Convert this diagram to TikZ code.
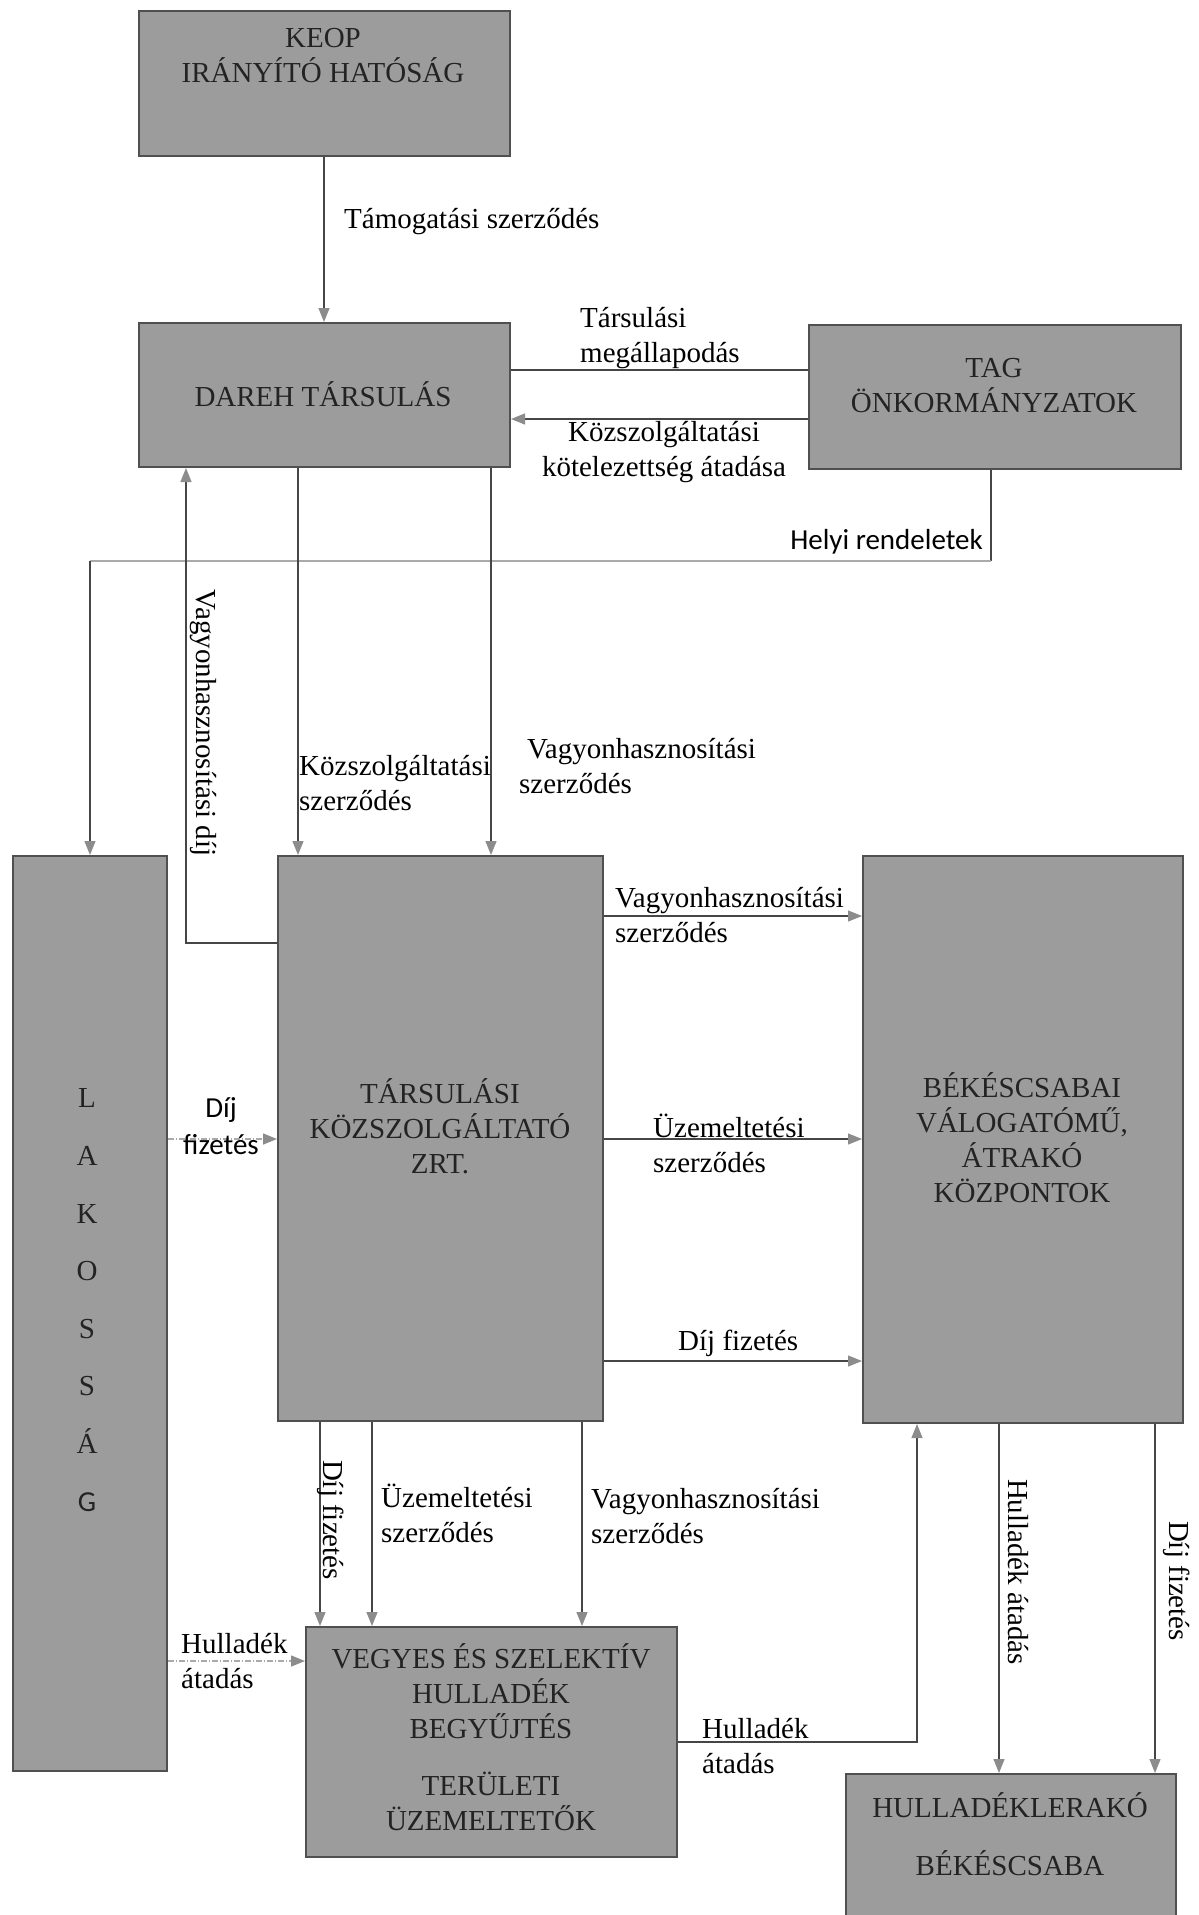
\documentclass[tikz,border=0pt]{standalone}
\usepackage{fontspec}
\setmainfont{Liberation Serif}
\newfontfamily\calfont{Carlito}
\usetikzlibrary{arrows.meta}
\definecolor{boxfill}{RGB}{156,156,156}
\definecolor{boxline}{RGB}{80,80,80}
\definecolor{wirecol}{RGB}{70,70,70}
\definecolor{tipgray}{RGB}{140,140,140}
\definecolor{faint}{RGB}{170,170,170}
\definecolor{boxtextcol}{RGB}{35,35,35}
\begin{document}
\begin{tikzpicture}[x=1pt,y=-1pt,
  every node/.style={font=\fontsize{29}{35}\selectfont, inner sep=0pt},
  box/.style={draw=boxline, line width=2pt, fill=boxfill, anchor=north west},
  boxtext/.style={text=boxtextcol, align=center},
  lbl/.style={align=left, anchor=west},
  rlbl/.style={rotate=-90},
  wire/.style={draw=wirecol, line width=1.2pt},
  arr/.style={wire, -{Triangle[length=14pt,width=11pt,fill=tipgray,color=tipgray]}},
  faintline/.style={draw=faint, line width=1.5pt},
  faintarr/.style={draw=faint, line width=1.5pt, dash pattern=on 6pt off 2pt on 1pt off 2pt, -{Triangle[length=14pt,width=11pt,fill=tipgray,color=tipgray]}}
]
\clip (0,0) rectangle (1199,1915);
\fill[white] (0,0) rectangle (1199,1915);

% boxes
\node[box, minimum width=371pt, minimum height=145pt] (keop) at (138,10) {};
\node[box, minimum width=371pt, minimum height=144pt] (dareh) at (138,322) {};
\node[box, minimum width=372pt, minimum height=144pt] (tag) at (808,324) {};
\node[box, minimum width=154pt, minimum height=915pt] (lak) at (12,855) {};
\node[box, minimum width=325pt, minimum height=565pt] (zrt) at (277,855) {};
\node[box, minimum width=320pt, minimum height=567pt] (bek) at (862,855) {};
\node[box, minimum width=371pt, minimum height=230pt] (veg) at (305,1626) {};
\node[box, minimum width=330pt, minimum height=170pt] (hul) at (845,1773) {};

% box texts
\node[boxtext] (keopt) at (323,56) {KEOP\\IRÁNYÍTÓ HATÓSÁG};
\node[boxtext] (dareht) at (323,394) {DAREH TÁRSULÁS};
\node[boxtext] (tagt) at (994,386) {TAG\\ÖNKORMÁNYZATOK};
\node[boxtext, font=\fontsize{29}{57.6}\selectfont] (lakt) at (87,1300) {L\\A\\K\\O\\S\\S\\Á\\{\calfont G}};
\node[boxtext] (zrtt) at (440,1126) {TÁRSULÁSI\\KÖZSZOLGÁLTATÓ\\ZRT.};
\node[boxtext] (bekt) at (1022,1138) {BÉKÉSCSABAI\\VÁLOGATÓMŰ,\\ÁTRAKÓ\\KÖZPONTOK};
\node[boxtext] (vegt1) at (491,1691) {VEGYES ÉS SZELEKTÍV\\HULLADÉK\\BEGYŰJTÉS};
\node[boxtext] (vegt2) at (491,1801) {TERÜLETI\\ÜZEMELTETŐK};
\node[boxtext] (hult1) at (1010,1805) {HULLADÉKLERAKÓ};
\node[boxtext] (hult2) at (1010,1863) {BÉKÉSCSABA};

% connectors
\draw[arr] (324,0 |- keop.south) -- (324,0 |- dareh.north);
\draw[wire] (tag.west |- 0,370) -- (dareh.east |- 0,370);
\draw[arr] (tag.west |- 0,419) -- (dareh.east |- 0,419);

\coordinate (hr1) at (991,561);
\coordinate (hr2) at (90,561);
\draw[wire] (991,0 |- tag.south) -- (hr1);
\draw[faintline] (hr1) -- (hr2);
\draw[arr] (hr2) -- (90,0 |- lak.north);

\draw[arr] (298,0 |- dareh.south) -- (298,0 |- zrt.north);
\draw[arr] (491,0 |- dareh.south) -- (491,0 |- zrt.north);
\coordinate (vd) at (186,943);
\draw[arr] (zrt.west |- vd) -- (vd) -- (186,0 |- dareh.south);

\draw[arr] (zrt.east |- 0,916) -- (bek.west |- 0,916);
\draw[arr] (zrt.east |- 0,1139) -- (bek.west |- 0,1139);
\draw[arr] (zrt.east |- 0,1361) -- (bek.west |- 0,1361);

\draw[faintarr] (lak.east |- 0,1139) -- (zrt.west |- 0,1139);

\draw[arr] (320,0 |- zrt.south) -- (320,0 |- veg.north);
\draw[arr] (372,0 |- zrt.south) -- (372,0 |- veg.north);
\draw[arr] (582,0 |- zrt.south) -- (582,0 |- veg.north);

\draw[faintarr] (lak.east |- 0,1661) -- (veg.west |- 0,1661);

\coordinate (ha) at (917,1742);
\draw[arr] (veg.east |- ha) -- (ha) -- (917,0 |- bek.south);

\draw[arr] (999,0 |- bek.south) -- (999,0 |- hul.north);
\draw[arr] (1155,0 |- bek.south) -- (1155,0 |- hul.north);

% labels
\node[lbl] (l1) at (344,222) {Támogatási szerződés};
\node[lbl] (l2) at (580,338) {Társulási\\megállapodás};
\node[align=center] (l3) at (664,452) {Közszolgáltatási\\kötelezettség átadása};
\node[anchor=east, font=\calfont\fontsize{29}{35}\selectfont] (l4) at (983,542) {Helyi rendeletek};
\node[lbl] (l5) at (299,783) {Közszolgáltatási\\szerződés};
\node[lbl] (l6) at (519,766) {\hspace{8pt}Vagyonhasznosítási\\szerződés};
\node[rlbl] (l7) at (203,723) {Vagyonhasznosítási díj};
\node[lbl] (l8) at (615,915) {Vagyonhasznosítási\\szerződés};
\node[lbl] (l9) at (653,1143) {Üzemeltetési\\szerződés};
\node[lbl] (l10) at (678,1343) {Díj fizetés};
\node[align=center, font=\calfont\fontsize{29}{37}\selectfont] (l11) at (221,1126) {Díj\\fizetés};
\node[rlbl] (l12) at (331,1520) {Díj fizetés};
\node[lbl] (l13) at (381,1513) {Üzemeltetési\\szerződés};
\node[lbl] (l14) at (591,1516) {Vagyonhasznosítási\\szerződés};
\node[lbl] (l15) at (181,1661) {Hulladék\\átadás};
\node[lbl] (l16) at (702,1746) {Hulladék\\átadás};
\node[rlbl] (l17) at (1018,1572) {Hulladék átadás};
\node[rlbl] (l18) at (1177,1581) {Díj fizetés};
\end{tikzpicture}
\end{document}
